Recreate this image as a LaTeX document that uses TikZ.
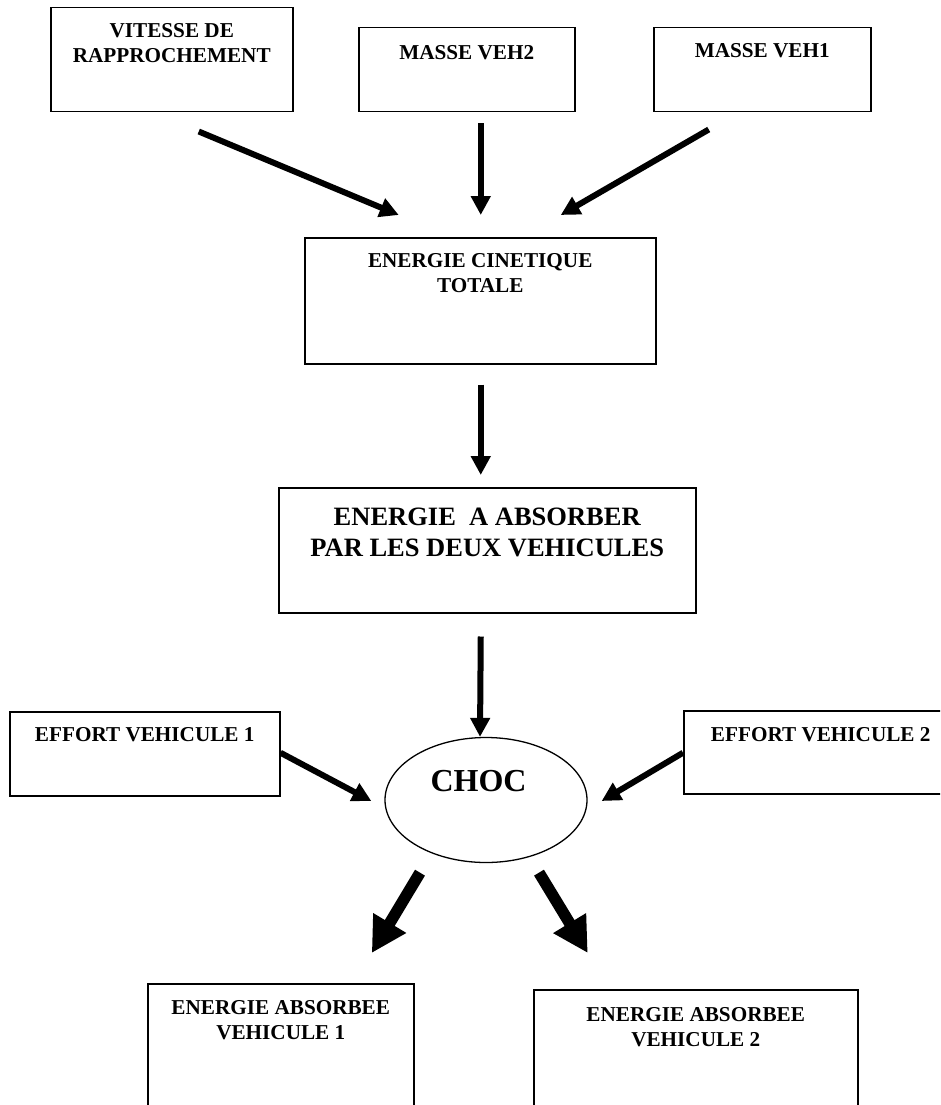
\documentclass[tikz,border=0pt]{standalone}
\usepackage{fontspec}
\setmainfont{Liberation Serif}
\usetikzlibrary{arrows.meta,shapes.geometric}
\newcommand\boxtxt[4]{\parbox[t][#2][t]{#1}{\centering\vspace*{#3}#4\par}}
\begin{document}
\begin{tikzpicture}[x=1pt,y=-1pt,
  box/.style={draw, line width=1.5pt, inner sep=0pt, anchor=north west,
    font=\bfseries\fontsize{21.2}{25}\selectfont},
  bigbox/.style={box, font=\bfseries\fontsize{26.5}{31}\selectfont},
  arr/.style={line width=6pt, -{Triangle[length=19pt,width=19pt]}},
  fatarr/.style={line width=11.5pt, -{Triangle[length=35pt,width=36pt]}},
  chocnode/.style={draw, ellipse, line width=1.3pt, minimum width=202pt,
    minimum height=125pt, inner sep=0pt, text height=22pt, text depth=40pt,
    font=\bfseries\fontsize{32}{36}\selectfont}
]
\clip (0,0) rectangle (940,1105);
\fill[white] (0,0) rectangle (940,1105);

\node[box] (vit) at (50,7) {\boxtxt{242pt}{104pt}{16pt}{VITESSE DE\\RAPPROCHEMENT}};
\node[box] (veh2) at (358,27) {\boxtxt{216pt}{84pt}{18pt}{MASSE VEH2}};
\node[box] (veh1) at (653,27) {\boxtxt{217pt}{84pt}{16pt}{MASSE VEH1}};
\node[box] (cin) at (304,237) {\boxtxt{351pt}{126pt}{16pt}{ENERGIE CINETIQUE\\TOTALE}};
\node[bigbox] (abs) at (278,487) {\boxtxt{417pt}{125pt}{20pt}{ENERGIE\ \ A ABSORBER\\PAR LES DEUX VEHICULES}};
\node[box] (eff1) at (9,711) {\boxtxt{270pt}{84pt}{16pt}{EFFORT VEHICULE 1}};
\node[box] (eff2) at (683,710) {\boxtxt{274pt}{83pt}{17pt}{EFFORT VEHICULE 2}};
\node[chocnode] (choc) at (486,800) {CHOC\hspace*{15pt}};
\node[box] (ab1) at (147,983) {\boxtxt{266pt}{150pt}{17pt}{ENERGIE ABSORBEE\\VEHICULE 1}};
\node[box] (ab2) at (533,989) {\boxtxt{324pt}{150pt}{18pt}{ENERGIE ABSORBEE\\VEHICULE 2}};

\draw[arr] ([shift={(27,19)}]vit.south) -- ([shift={(-81.5,-22)}]cin.north);
\draw[arr] ([shift={(14,11)}]veh2.south) -- ([shift={(0.5,-22)}]cin.north);
\draw[arr] ([shift={(-53.5,17)}]veh1.south) -- ([shift={(80.5,-22)}]cin.north);
\draw[arr] ([shift={(0.5,20)}]cin.south) -- ([shift={(-6.5,-12)}]abs.north);
\draw[arr] ([shift={(-6.5,23)}]abs.south) -- ([shift={(-6,0)}]choc.north);
\draw[arr] ([shift={(0,-1)}]eff1.east) -- ([shift={(-13,1)}]choc.west);
\draw[arr] ([shift={(0,0.5)}]eff2.west) -- ([shift={(14,1)}]choc.east);
\draw[fatarr] ([shift={(-66,9.5)}]choc.south) -- ([shift={(91,-30)}]ab1.north);
\draw[fatarr] ([shift={(53,9.5)}]choc.south) -- ([shift={(-108,-36)}]ab2.north);
\end{tikzpicture}
\end{document}
